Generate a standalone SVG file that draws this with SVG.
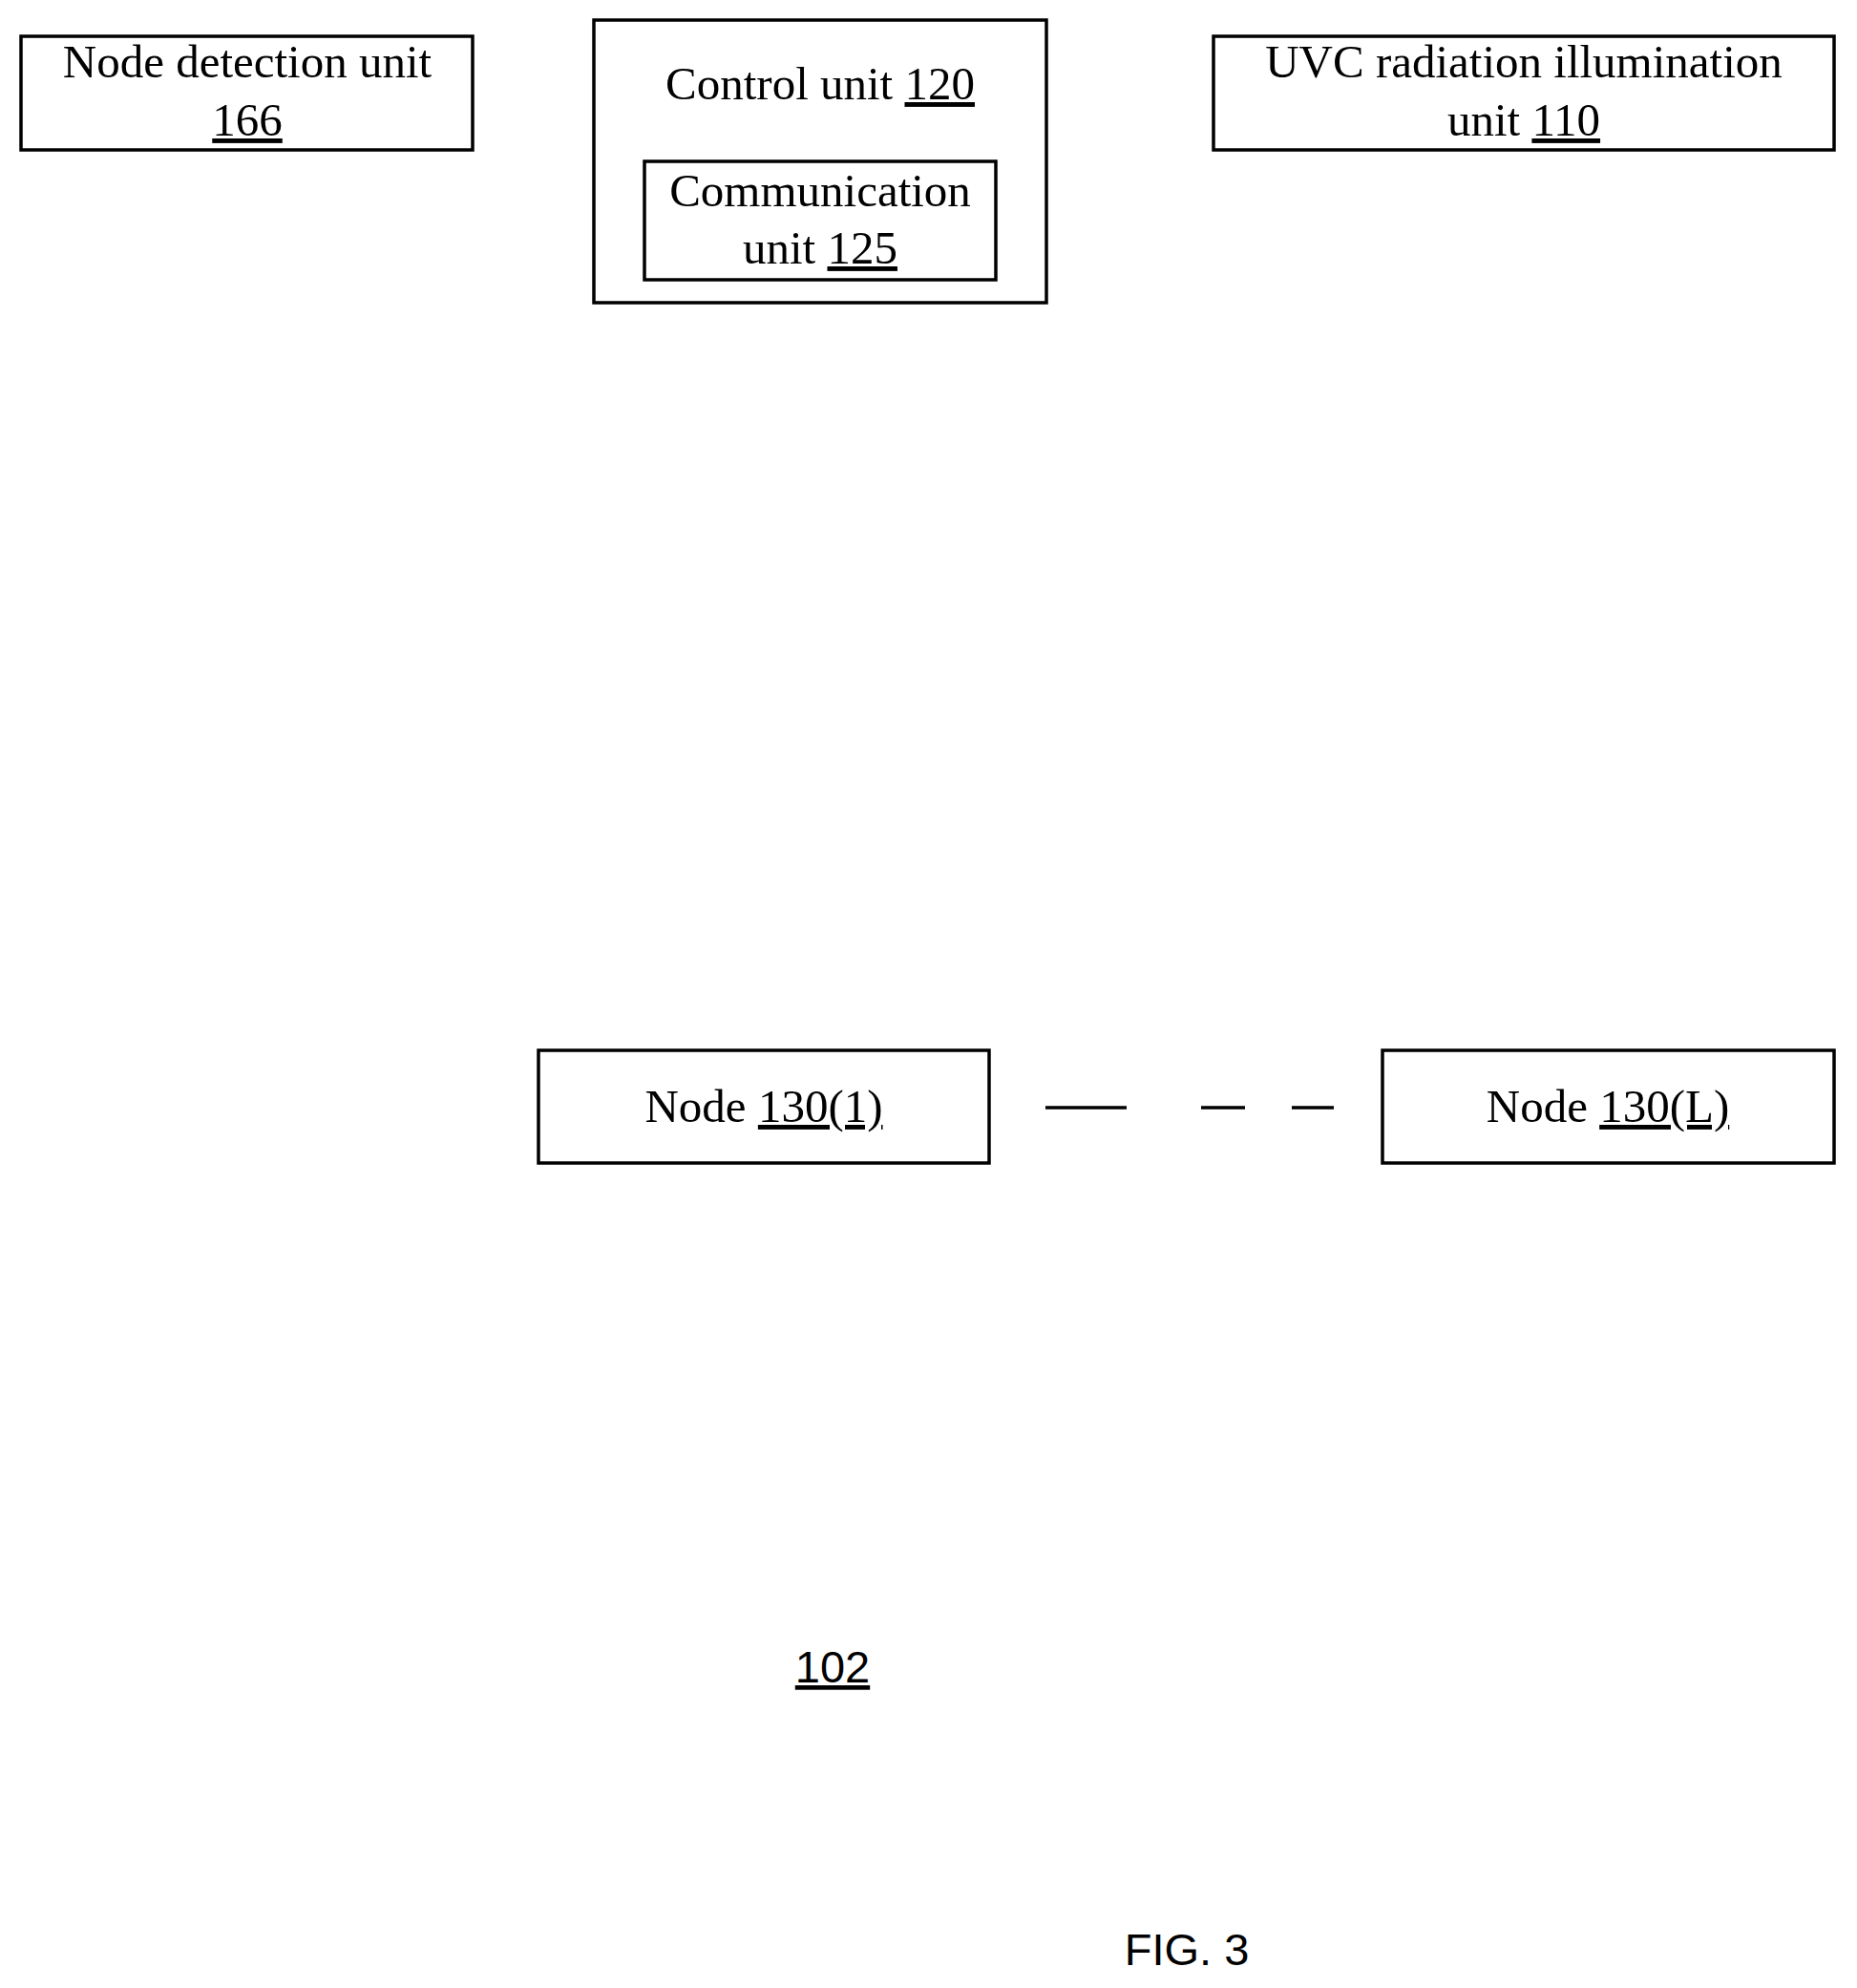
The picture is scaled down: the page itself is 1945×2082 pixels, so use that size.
<svg xmlns="http://www.w3.org/2000/svg" width="1945" height="2082" viewBox="0 0 1945 2082">
<style>
.b{fill:none;stroke:#000;stroke-width:3.5}
.t{font-family:"Liberation Serif",serif;font-size:49px;text-anchor:middle;fill:#000}
.u{text-decoration:underline}
.s{font-family:"Liberation Sans",sans-serif;font-size:47px;text-anchor:middle;fill:#000}
</style>
<rect width="1945" height="2082" fill="#fff"/>
<g id="node166"><rect class="b" x="22" y="38" width="473" height="119"/>
<text class="t" x="259" y="81">Node detection unit</text><text class="t u" x="259" y="142">166</text></g>
<g id="control120"><rect class="b" x="622" y="21" width="474" height="296"/>
<text class="t" x="859" y="104">Control unit <tspan class="u">120</tspan></text></g>
<g id="comm125"><rect class="b" x="675" y="169" width="368" height="124"/>
<text class="t" x="859" y="216">Communication</text><text class="t" x="859" y="276">unit  <tspan class="u">125</tspan></text></g>
<g id="uvc110"><rect class="b" x="1271" y="38" width="650" height="119"/>
<text class="t" x="1596" y="81">UVC radiation illumination</text><text class="t" x="1596" y="142">unit <tspan class="u">110</tspan></text></g>
<g id="node1"><rect class="b" x="564" y="1100" width="472" height="118"/>
<text class="t" x="800" y="1175">Node <tspan class="u">130(1)</tspan></text></g>
<g id="nodeL"><rect class="b" x="1448" y="1100" width="473" height="118"/>
<text class="t" x="1684" y="1175">Node <tspan class="u">130(L)</tspan></text></g>
<g id="connectors" stroke="#000" stroke-width="3.5">
<line x1="1095" y1="1160" x2="1180" y2="1160"/><line x1="1258" y1="1160" x2="1304" y2="1160"/><line x1="1353" y1="1160" x2="1397" y2="1160"/></g>
<text class="s u" x="872" y="1762">102</text>
<text class="s" x="1243" y="2058">FIG. 3</text>
</svg>
